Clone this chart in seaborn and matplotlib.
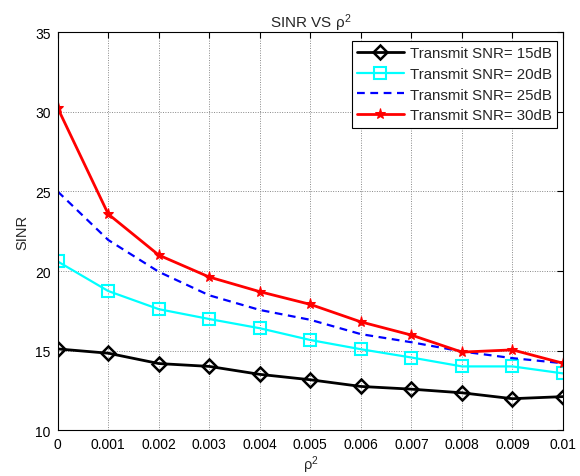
import numpy as np
import pandas as pd
import seaborn as sns
import matplotlib
matplotlib.use("Agg")
import matplotlib.pyplot as plt

# --- dados ---
RHO2 = [0, 0.001, 0.002, 0.003, 0.004, 0.005, 0.006, 0.007, 0.008, 0.009, 0.01]
SNR_15 = [15.1, 14.83, 14.18, 14.0, 13.5, 13.16, 12.74, 12.57, 12.34, 11.97, 12.1]
SNR_20 = [20.6, 18.74, 17.6, 16.98, 16.4, 15.66, 15.08, 14.56, 14.0, 14.0, 13.56]
SNR_25 = [25.0, 21.95, 19.95, 18.47, 17.55, 16.93, 16.03, 15.52, 14.94, 14.52, 14.2]
SNR_30 = [30.25, 23.58, 21.0, 19.62, 18.7, 17.9, 16.8, 15.97, 14.9, 15.04, 14.2]
ROTULOS = ['Transmit SNR= 15dB', 'Transmit SNR= 20dB',
           'Transmit SNR= 25dB', 'Transmit SNR= 30dB']
X_TICKS = ['0', '0.001', '0.002', '0.003', '0.004', '0.005',
           '0.006', '0.007', '0.008', '0.009', '0.01']
Y_TICKS = [10, 15, 20, 25, 30, 35]

sns.set_style("white")
plt.rcParams['font.family'] = ['Liberation Sans', 'DejaVu Sans']
plt.rcParams['mathtext.fontset'] = 'custom'
plt.rcParams['mathtext.rm'] = 'Liberation Sans'
plt.rcParams['mathtext.it'] = 'Liberation Sans'
plt.rcParams['mathtext.default'] = 'regular'

fig = plt.figure(figsize=(5.8, 4.77), dpi=100)
ax = fig.add_axes([0.0995, 0.0964, 0.8712, 0.8334])

estilos = [
    dict(color='black', marker='D', markersize=7, linewidth=2,
         markerfacecolor='none', markeredgecolor='black',
         markeredgewidth=1.8, linestyle='-'),
    dict(color='cyan', marker='s', markersize=8, linewidth=1.6,
         markerfacecolor='none', markeredgecolor='cyan',
         markeredgewidth=1.5, linestyle='-'),
    dict(color='blue', marker='None', linewidth=1.6, linestyle=(0, (3.5, 2.5))),
    dict(color='red', marker='*', markersize=8, linewidth=2,
         markerfacecolor='red', markeredgecolor='red', linestyle='-'),
]
series = [SNR_15, SNR_20, SNR_25, SNR_30]

linhas = []
for valores, rotulo, est in zip(series, ROTULOS, estilos):
    sns.lineplot(x=RHO2, y=valores, ax=ax, color=est['color'], legend=False)
    ln = ax.lines[-1]
    ln.set(**est)
    ln.set_label(rotulo)
    linhas.append(ln)

ax.set_xlim(0, 0.01)
ax.set_ylim(10, 35)
ax.set_xticks(RHO2)
ax.set_xticklabels(X_TICKS)
ax.set_yticks(Y_TICKS)
ax.tick_params(direction='in', top=True, right=True, labelsize=10,
               length=4, width=0.8, colors='black', pad=5)
ax.grid(True, color='#888888', linestyle=(0, (1, 1.5)), linewidth=0.7)
for s in ax.spines.values():
    s.set_color('black')
    s.set_linewidth(0.8)
    s.set_visible(True)

ax.set_title(r'SINR VS $\rho^2$', fontsize=11, pad=4)
ax.set_xlabel(r'$\rho^2$', fontsize=10.5, labelpad=2)
ax.set_ylabel('SINR', fontsize=10.5, labelpad=4)

leg = ax.legend(handles=linhas, loc='upper right', bbox_to_anchor=(0.988, 0.9786),
                fontsize=10.8, handlelength=3.1, fancybox=False,
                edgecolor='black', framealpha=1, borderaxespad=0,
                labelspacing=0.45, borderpad=0.35, handletextpad=0.4)
leg.get_frame().set_linewidth(0.8)

fig.savefig('out.png', dpi=100)
